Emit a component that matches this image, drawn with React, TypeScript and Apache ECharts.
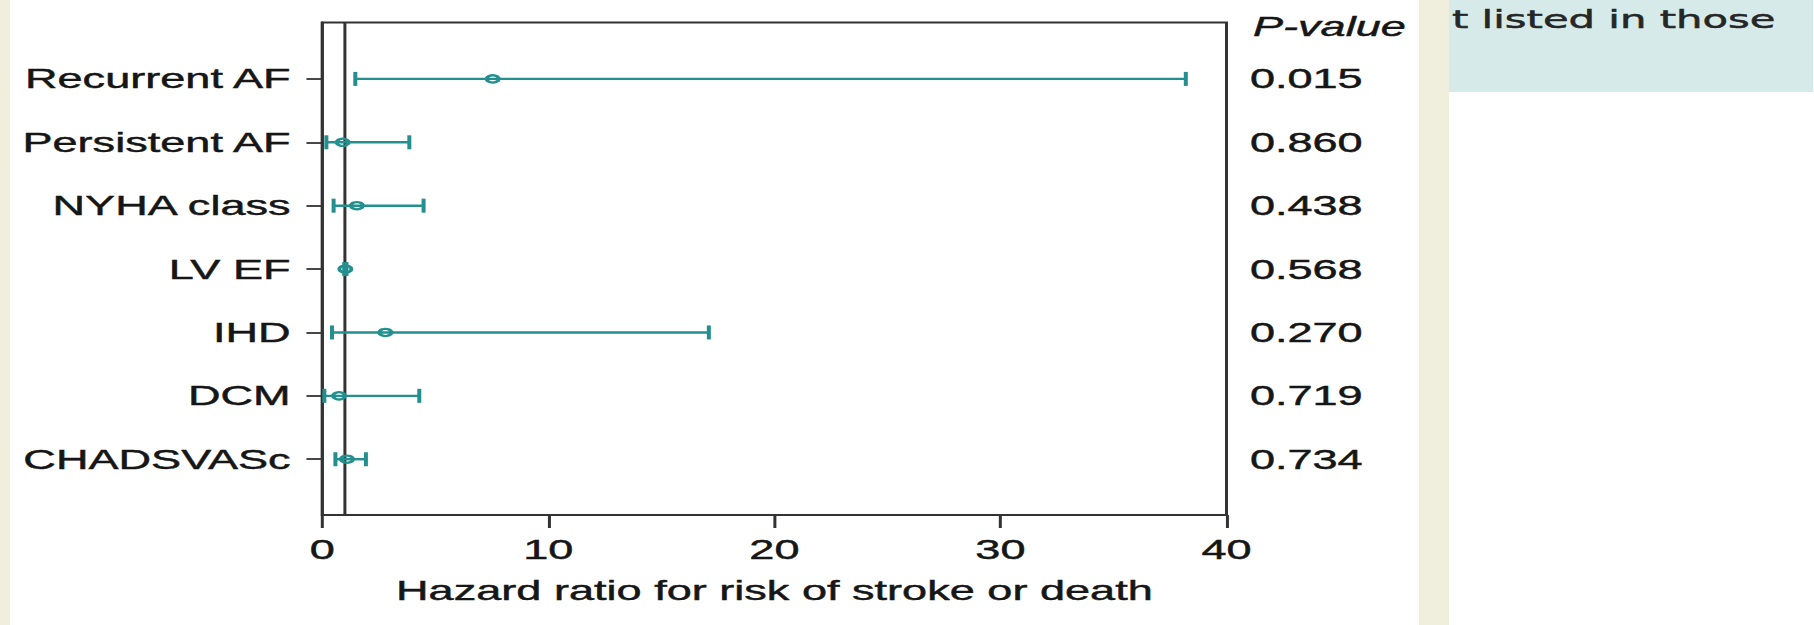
import React, { useEffect, useRef } from "react";
import * as echarts from "echarts";

// ---- data ----
const categories = ["Recurrent AF", "Persistent AF", "NYHA class", "LV EF", "IHD", "DCM", "CHADSVASc"];
const hrEstimate = [7.54, 0.9, 1.53, 1.02, 2.79, 0.74, 1.09];
const ciLower = [1.46, 0.18, 0.5, 0.97, 0.43, 0.09, 0.58];
const ciUpper = [38.2, 3.85, 4.48, 1.07, 17.1, 4.29, 1.93];
const pValues = ["0.015", "0.860", "0.438", "0.568", "0.270", "0.719", "0.734"];
const xMin = 0;
const xMax = 40;
const xInterval = 10;
const refLine = 1;
const rowMin = 0.12;
const rowMax = 7.89;
const pHeader = "P-value";
const xTitle = "Hazard ratio for risk of stroke or death";
const sideText = "t listed in those";

// ---- layout / style ----
const S = 1.67; // the reference picture is stretched horizontally
const W = Math.round(1814 / S);
const H = 625;
const TEAL = "#23908f";
const INK = "#161616";
const FRAME = "#333333";
const FONT = '"Liberation Sans", Arial, Helvetica, sans-serif';
const heavy = { textBorderColor: INK, textBorderWidth: 0.45 };

export default function App() {
  const ref = useRef<HTMLDivElement>(null);

  useEffect(() => {
    if (!ref.current) return;
    const chart = echarts.init(ref.current, null, { renderer: "svg" });
    const n = categories.length;
    const rowPos = categories.map((_, i) => n - i);
    const data = categories.map((_, i) => [ciLower[i], hrEstimate[i], ciUpper[i], rowPos[i]]);
    const labelFor = (v: number, arr: string[]) => {
      const idx = n - Math.round(v);
      return idx >= 0 && idx < n ? arr[idx] : "";
    };

    const gridLeft = 322.3 / S;
    const gridRight = 1226.5 / S;

    chart.setOption({
      animation: false,
      backgroundColor: "#ffffff",
      textStyle: { fontFamily: FONT },
      grid: {
        left: gridLeft,
        top: 22.5,
        width: gridRight - gridLeft,
        height: 492.5,
        show: true,
        borderColor: FRAME,
        borderWidth: 1.8,
        backgroundColor: "#ffffff",
        containLabel: false,
      },
      xAxis: {
        type: "value",
        min: xMin,
        max: xMax,
        interval: xInterval,
        splitLine: { show: false },
        axisLine: { show: true, lineStyle: { color: FRAME, width: 1.8 } },
        axisTick: { show: true, length: 13, lineStyle: { color: FRAME, width: 1.8 } },
        axisLabel: { fontSize: 27, color: INK, margin: 21, fontFamily: FONT, ...heavy },
        name: xTitle,
        nameLocation: "middle",
        nameGap: 62,
        nameTextStyle: { fontSize: 27, color: INK, fontFamily: FONT, ...heavy },
      },
      yAxis: [
        {
          type: "value",
          min: rowMin,
          max: rowMax,
          splitLine: { show: false },
          axisLine: { show: true, lineStyle: { color: FRAME, width: 1.8 } },
          axisTick: {
            show: true,
            length: 9.5,
            customValues: rowPos,
            lineStyle: { color: FRAME, width: 1.8 },
          },
          axisLabel: {
            customValues: rowPos,
            formatter: (v: number) => labelFor(v, categories),
            fontSize: 27,
            color: INK,
            margin: 19,
            fontFamily: FONT,
            ...heavy,
          },
        },
        {
          type: "value",
          position: "right",
          min: rowMin,
          max: rowMax,
          splitLine: { show: false },
          axisLine: { show: false },
          axisTick: { show: false },
          axisLabel: {
            customValues: rowPos,
            formatter: (v: number) => labelFor(v, pValues),
            fontSize: 27,
            color: INK,
            margin: 14,
            fontFamily: FONT,
            ...heavy,
          },
        },
      ],
      graphic: [
        { type: "rect", shape: { x: 0, y: 0, width: 10 / S, height: H }, style: { fill: "#f0eedc" }, silent: true },
        { type: "rect", shape: { x: 1419 / S, y: 0, width: 30 / S, height: H }, style: { fill: "#f0eedc" }, silent: true },
        { type: "rect", shape: { x: 1449 / S, y: 0, width: W - 1449 / S, height: 92 }, style: { fill: "#d6eaea" }, silent: true },
        {
          type: "text",
          x: 1452 / S,
          y: 19,
          style: {
            text: sideText,
            font: '25px "DejaVu Sans", "Open Sans", sans-serif',
            fill: "#262626",
            stroke: "#262626",
            lineWidth: 0.5,
            textAlign: "left",
            textVerticalAlign: "middle",
          },
          silent: true,
        },
        {
          type: "text",
          x: 1253 / S,
          y: 26.7,
          style: {
            text: pHeader,
            font: "italic 27px " + FONT,
            fill: INK,
            stroke: INK,
            lineWidth: 0.45,
            textAlign: "left",
            textVerticalAlign: "middle",
          },
          silent: true,
        },
      ],
      series: [
        {
          type: "line",
          data: [
            [refLine, rowMin],
            [refLine, rowMax],
          ],
          symbol: "none",
          lineStyle: { color: FRAME, width: 1.8 },
          z: 2,
          silent: true,
        },
        {
          type: "custom",
          z: 5,
          encode: { x: [0, 1, 2], y: 3 },
          data,
          renderItem: (_params: any, api: any) => {
            const y = api.value(3);
            const lo = api.coord([api.value(0), y]);
            const mid = api.coord([api.value(1), y]);
            const hi = api.coord([api.value(2), y]);
            const cap = 7;
            const st = { stroke: TEAL, lineWidth: 2.4 };
            return {
              type: "group",
              children: [
                { type: "line", shape: { x1: lo[0], y1: lo[1], x2: hi[0], y2: hi[1] }, style: st },
                { type: "line", shape: { x1: lo[0], y1: lo[1] - cap, x2: lo[0], y2: lo[1] + cap }, style: st },
                { type: "line", shape: { x1: hi[0], y1: hi[1] - cap, x2: hi[0], y2: hi[1] + cap }, style: st },
                {
                  type: "circle",
                  shape: { cx: mid[0], cy: mid[1], r: 3.6 },
                  style: { fill: "rgba(0,0,0,0)", stroke: TEAL, lineWidth: 2.3 },
                },
              ],
            };
          },
        },
      ],
    });

    return () => chart.dispose();
  }, []);

  return (
    <div
      style={{
        position: "absolute",
        left: 0,
        top: 0,
        width: 1814,
        height: H,
        overflow: "hidden",
        background: "#ffffff",
      }}
    >
      <div
        ref={ref}
        style={{ width: W, height: H, transform: `scaleX(${S})`, transformOrigin: "0 0" }}
      />
    </div>
  );
}
